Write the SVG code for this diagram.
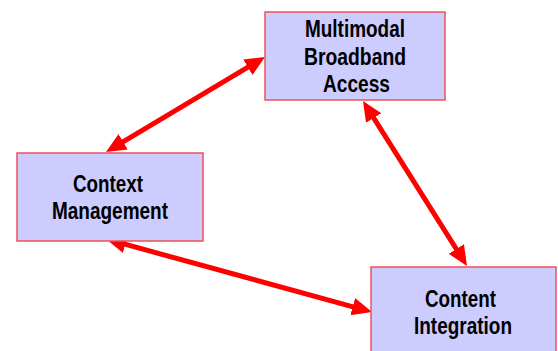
<svg xmlns="http://www.w3.org/2000/svg" width="558" height="351" viewBox="0 0 558 351">
  <style>
    .box { fill: #CCCCFF; stroke: #F0505A; stroke-width: 1.5; }
    .label { font-family: "Liberation Sans", Arial, sans-serif; font-weight: bold; font-size: 23px; fill: #000; }
    .link { stroke: #FF0000; stroke-width: 5; fill: none; marker-start: url(#head); marker-end: url(#head); }
  </style>
  <defs>
    <marker id="head" markerUnits="userSpaceOnUse" markerWidth="22" markerHeight="20" refX="8" refY="9" orient="auto-start-reverse" viewBox="0 0 22 20">
      <path d="M0,0 L20,9 L0,18 Z" fill="#FF0000"/>
    </marker>
  </defs>

  <g id="connectors">
    <line class="link" x1="116.3" y1="145.8" x2="254.7" y2="63.2"/>
    <line class="link" x1="369.4" y1="111.2" x2="460.6" y2="255.8"/>
    <line class="link" x1="117.6" y1="242.2" x2="360.4" y2="308.8"/>
  </g>

  <g id="multimodal-broadband-access">
    <rect class="box" x="265" y="12" width="180" height="88"/>
    <text class="label" x="305" y="37" textLength="100" lengthAdjust="spacingAndGlyphs">Multimodal</text>
    <text class="label" x="304" y="65" textLength="102" lengthAdjust="spacingAndGlyphs">Broadband</text>
    <text class="label" x="323" y="92" textLength="67" lengthAdjust="spacingAndGlyphs">Access</text>
  </g>

  <g id="context-management">
    <rect class="box" x="17" y="153" width="186" height="88"/>
    <text class="label" x="73" y="192" textLength="70" lengthAdjust="spacingAndGlyphs">Context</text>
    <text class="label" x="52" y="219" textLength="116" lengthAdjust="spacingAndGlyphs">Management</text>
  </g>

  <g id="content-integration">
    <rect class="box" x="371" y="267" width="185" height="90"/>
    <text class="label" x="425" y="307" textLength="71" lengthAdjust="spacingAndGlyphs">Content</text>
    <text class="label" x="414" y="334" textLength="98" lengthAdjust="spacingAndGlyphs">Integration</text>
  </g>
</svg>
